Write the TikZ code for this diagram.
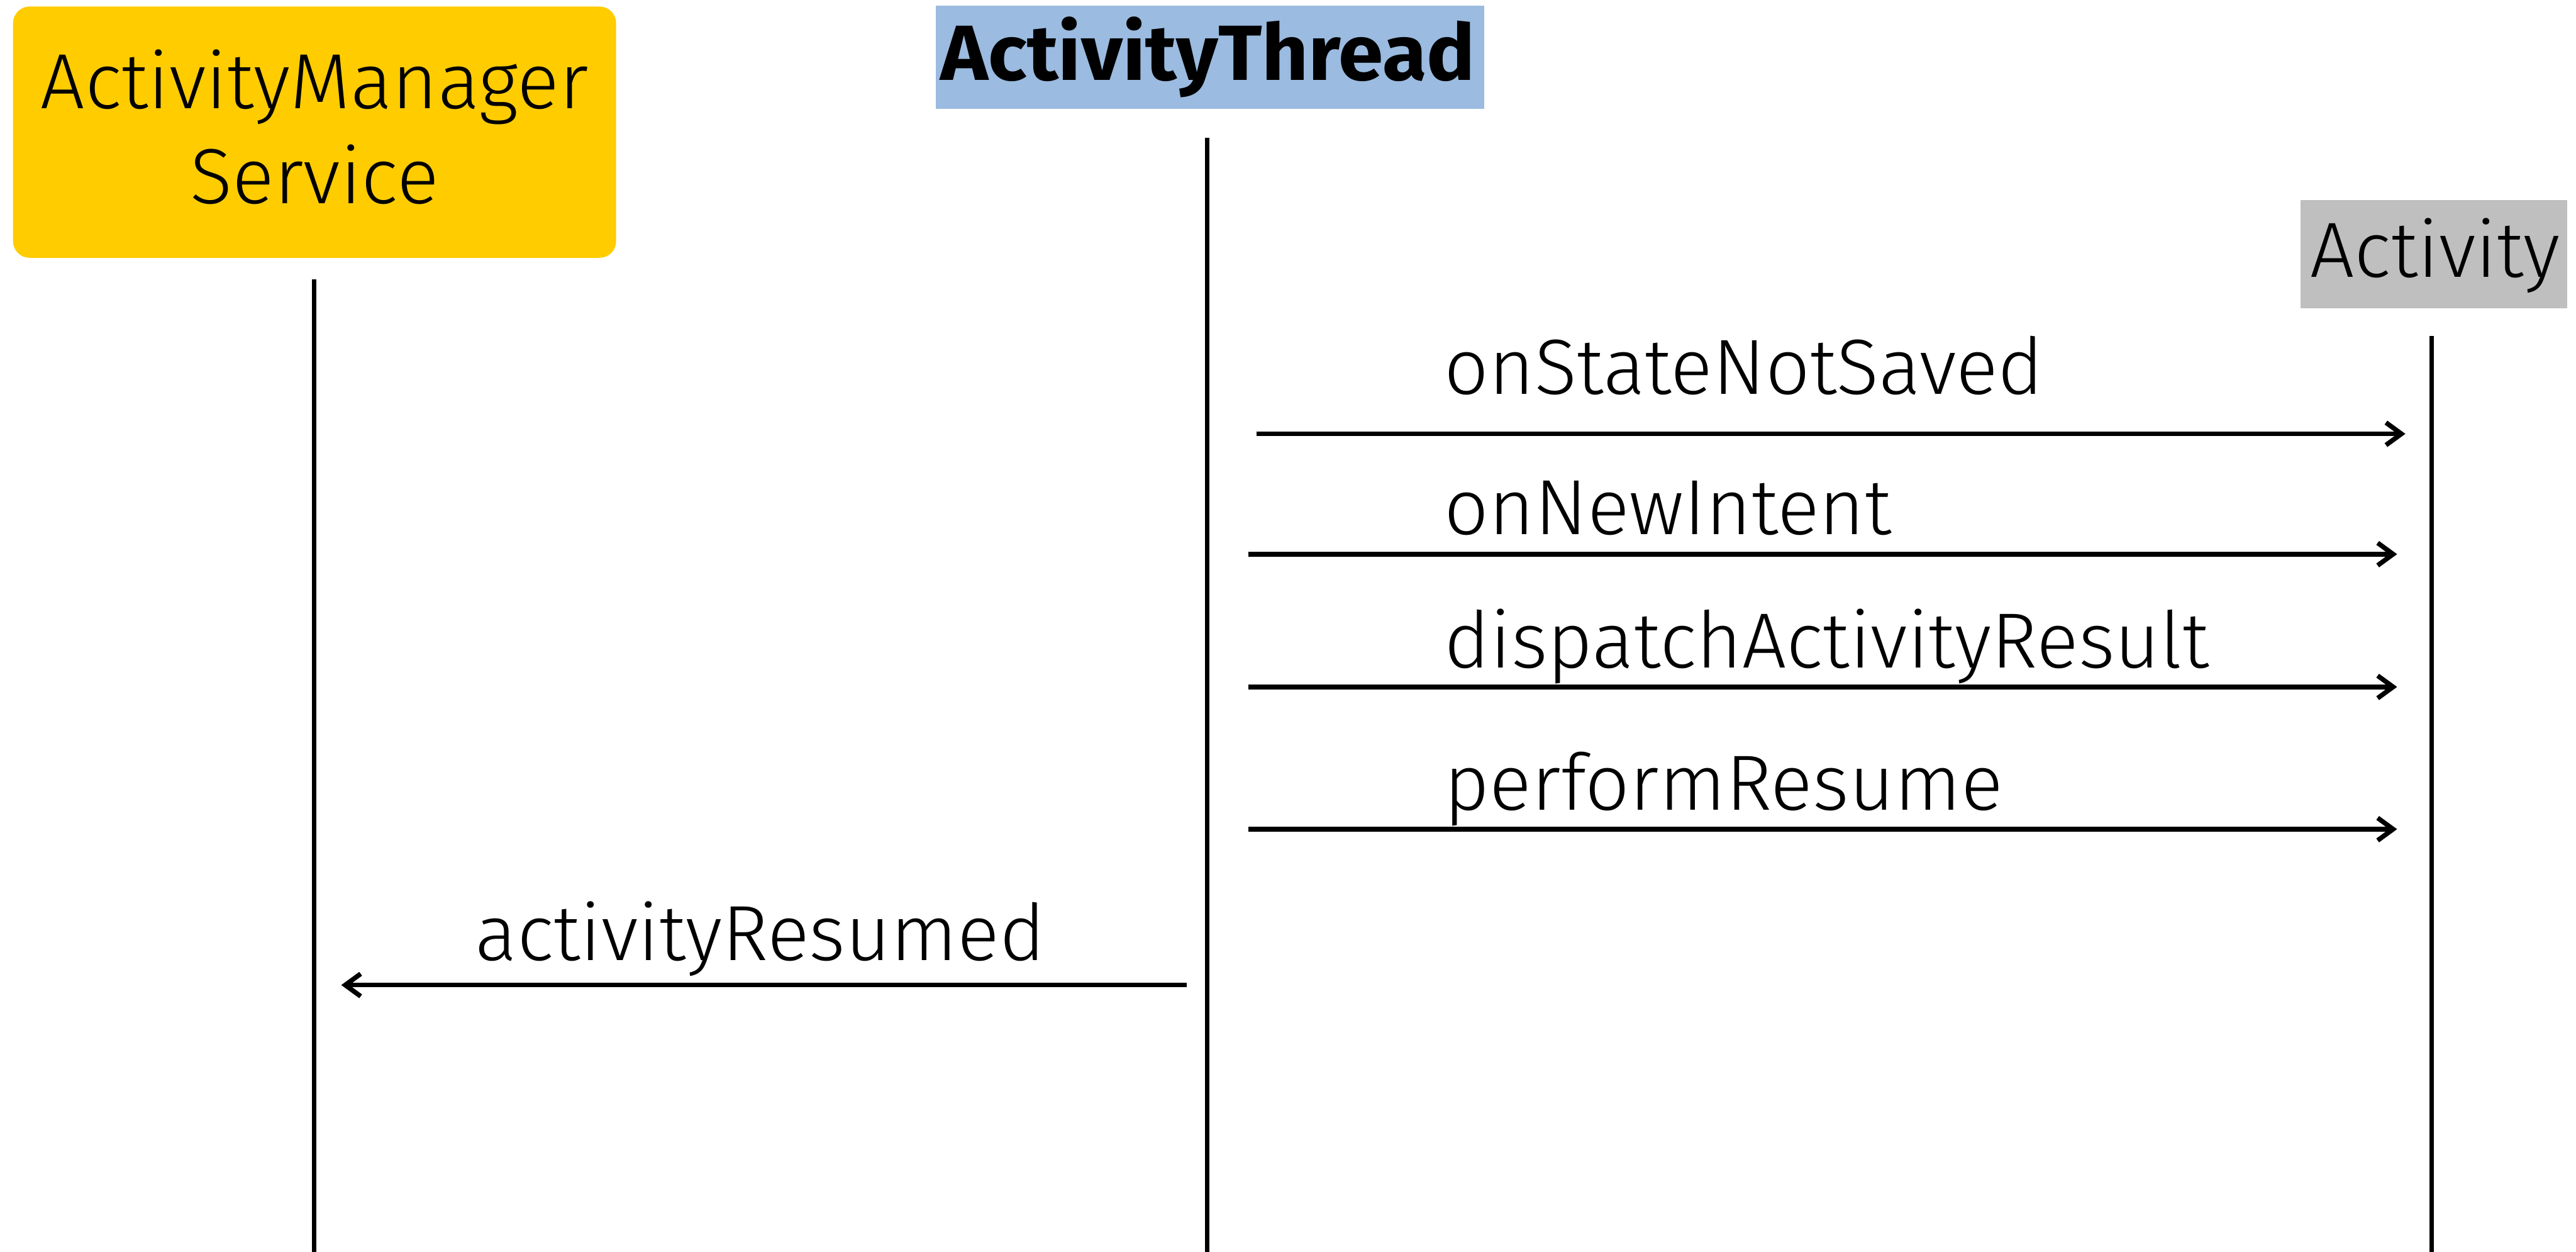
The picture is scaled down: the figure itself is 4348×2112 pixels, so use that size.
\documentclass[tikz,border=0pt]{standalone}
\usepackage{fontspec}
\setmainfont{Fira Sans Light}
\newfontfamily\headbold[FakeStretch=1.035]{Fira Sans Bold}
\usetikzlibrary{arrows.meta}
\definecolor{amsyellow}{HTML}{FFCC00}
\definecolor{threadblue}{HTML}{9BBBE0}
\definecolor{actgray}{HTML}{BFBFBF}
\begin{document}
\begin{tikzpicture}[x=1pt,y=-1pt,
  lifeline/.style={line width=7.5pt},
  msg/.style={line width=8pt, -{Straight Barb[length=26pt,width=38pt]}},
  hdr/.style={inner sep=0pt, outer sep=0pt},
  txt/.style={inner sep=0pt, outer sep=0pt, font=\fontsize{132}{160}\selectfont},
]
\useasboundingbox (0,0) rectangle (4348,2112);

% participant headers
\node[hdr, fill=amsyellow, rounded corners=28pt, minimum width=1018pt, minimum height=424pt] (ams) at (531,223) {};
\node[txt, anchor=base] (amsname) at (531,183) {ActivityManager};
\node[txt, anchor=base] (amsname2) at (531,343) {Service};

\node[hdr, fill=threadblue, minimum width=926pt, minimum height=174pt] (thread) at (2042,97) {};
\node[txt, anchor=base, font=\fontsize{132}{160}\headbold] (threadname) at (2039,135) {ActivityThread};

\node[hdr, fill=actgray, minimum width=450pt, minimum height=182pt] (act) at (4108,429) {};
\node[txt, anchor=base] (actname) at (4110,468) {Activity};

% lifelines
\coordinate (amsTop) at (530,471);
\coordinate (amsBot) at (530,2112);
\coordinate (thrTop) at (2038,233);
\coordinate (thrBot) at (2038,2112);
\coordinate (actTop) at (4104,567);
\coordinate (actBot) at (4104,2112);
\draw[lifeline] (amsTop) -- (amsBot);
\draw[lifeline] (thrTop) -- (thrBot);
\draw[lifeline] (actTop) -- (actBot);

% messages
\coordinate (m1s) at (2121,732); \coordinate (m1e) at (4060,732);
\coordinate (m2s) at (2107,935); \coordinate (m2e) at (4046,935);
\coordinate (m3s) at (2107,1159); \coordinate (m3e) at (4046,1159);
\coordinate (m4s) at (2107,1399); \coordinate (m4e) at (4046,1399);
\coordinate (m5s) at (2003,1662); \coordinate (m5e) at (576,1662);
\draw[msg] (m1s) -- (m1e);
\draw[msg] (m2s) -- (m2e);
\draw[msg] (m3s) -- (m3e);
\draw[msg] (m4s) -- (m4e);
\draw[msg] (m5s) -- (m5e);

\node[txt, anchor=base west] (l1) at (2438,665) {onStateNotSaved};
\node[txt, anchor=base west] (l2) at (2438,902) {onNewIntent};
\node[txt, anchor=base west] (l3) at (2438,1127) {dispatchActivityResult};
\node[txt, anchor=base west] (l4) at (2438,1367) {performResume};
\node[txt, anchor=base] (l5) at (1283,1620) {activityResumed};
\end{tikzpicture}
\end{document}
